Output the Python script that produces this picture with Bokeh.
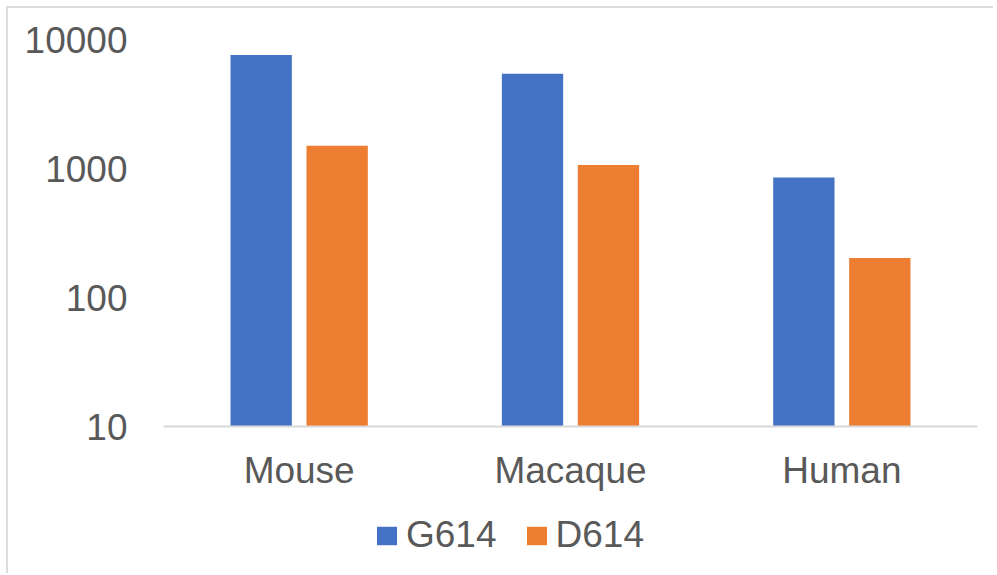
from bokeh.plotting import figure
from bokeh.models import ColumnDataSource, FactorRange, Legend, LegendItem, NumeralTickFormatter, FixedTicker
from bokeh.layouts import column
from bokeh.transform import dodge
from bokeh.embed import file_html
from bokeh.resources import INLINE

categories = ["Mouse", "Macaque", "Human"]
series_names = ["G614", "D614"]
g614 = [7570, 5430, 850]
d614 = [1500, 1066, 202]
y_ticks = [10, 100, 1000, 10000]

colors = ["#4472C4", "#ED7D31"]
FONT = "Liberation Sans"
TXT = "#595959"
FS = "37px"

src = ColumnDataSource(dict(cat=categories, g614=g614, d614=d614))

p = figure(
    x_range=FactorRange(*categories, range_padding=0),
    y_range=(10, 10000),
    y_axis_type="log",
    width=985, height=500,
    output_backend="svg", toolbar_location=None,
    min_border_left=155, min_border_right=16, min_border_top=31, min_border_bottom=82,
)
p.outline_line_color = None
p.grid.grid_line_color = None

r1 = p.vbar(x=dodge("cat", -0.14, range=p.x_range), top="g614", bottom=10, width=0.226,
            source=src, fill_color=colors[0], line_color=None)
r2 = p.vbar(x=dodge("cat", 0.14, range=p.x_range), top="d614", bottom=10, width=0.226,
            source=src, fill_color=colors[1], line_color=None)

p.yaxis.ticker = FixedTicker(ticks=y_ticks, minor_ticks=[])
p.yaxis.formatter = NumeralTickFormatter(format="0")
p.yaxis.axis_line_color = None
p.yaxis.major_tick_line_color = None
p.yaxis.minor_tick_line_color = None
p.yaxis.major_label_standoff = 30
p.yaxis.major_label_text_font = FONT
p.yaxis.major_label_text_font_size = FS
p.yaxis.major_label_text_color = TXT

p.xaxis.axis_line_color = "#d9d9d9"
p.xaxis.axis_line_width = 2
p.xaxis.major_tick_line_color = None
p.xaxis.minor_tick_line_color = None
p.xaxis.major_label_standoff = 17
p.xaxis.major_label_text_font = FONT
p.xaxis.major_label_text_font_size = FS
p.xaxis.major_label_text_color = TXT

# legend strip below the chart (proxy renderers lie outside the visible range)
lg = figure(width=985, height=65, x_range=(0, 1), y_range=(0, 1),
            output_backend="svg", toolbar_location=None,
            min_border=0)
lg.axis.visible = False
lg.grid.visible = False
lg.outline_line_color = None
proxy = ColumnDataSource(dict(x=[-5], top=[-5], bottom=[-6]))
l1 = lg.vbar(x="x", top="top", bottom="bottom", width=0.1, source=proxy,
             fill_color=colors[0], line_color=None)
l2 = lg.vbar(x="x", top="top", bottom="bottom", width=0.1, source=proxy,
             fill_color=colors[1], line_color=None)

legend = Legend(
    items=[LegendItem(label=series_names[0], renderers=[l1]),
           LegendItem(label=series_names[1], renderers=[l2])],
    orientation="horizontal",
    location=(211, 17),
    glyph_width=25, glyph_height=23,
    label_standoff=7, spacing=27, padding=0, margin=0,
    label_text_font=FONT, label_text_font_size=FS, label_text_color=TXT,
    border_line_color=None, background_fill_alpha=0,
)
lg.add_layout(legend, "center")

layout = column(p, lg, spacing=0, margin=(6, 0, 0, 6),
                styles={"border-left": "2px solid #dcdcdc", "border-top": "2px solid #dcdcdc"})

open("out.html", "w").write(file_html(layout, INLINE))
